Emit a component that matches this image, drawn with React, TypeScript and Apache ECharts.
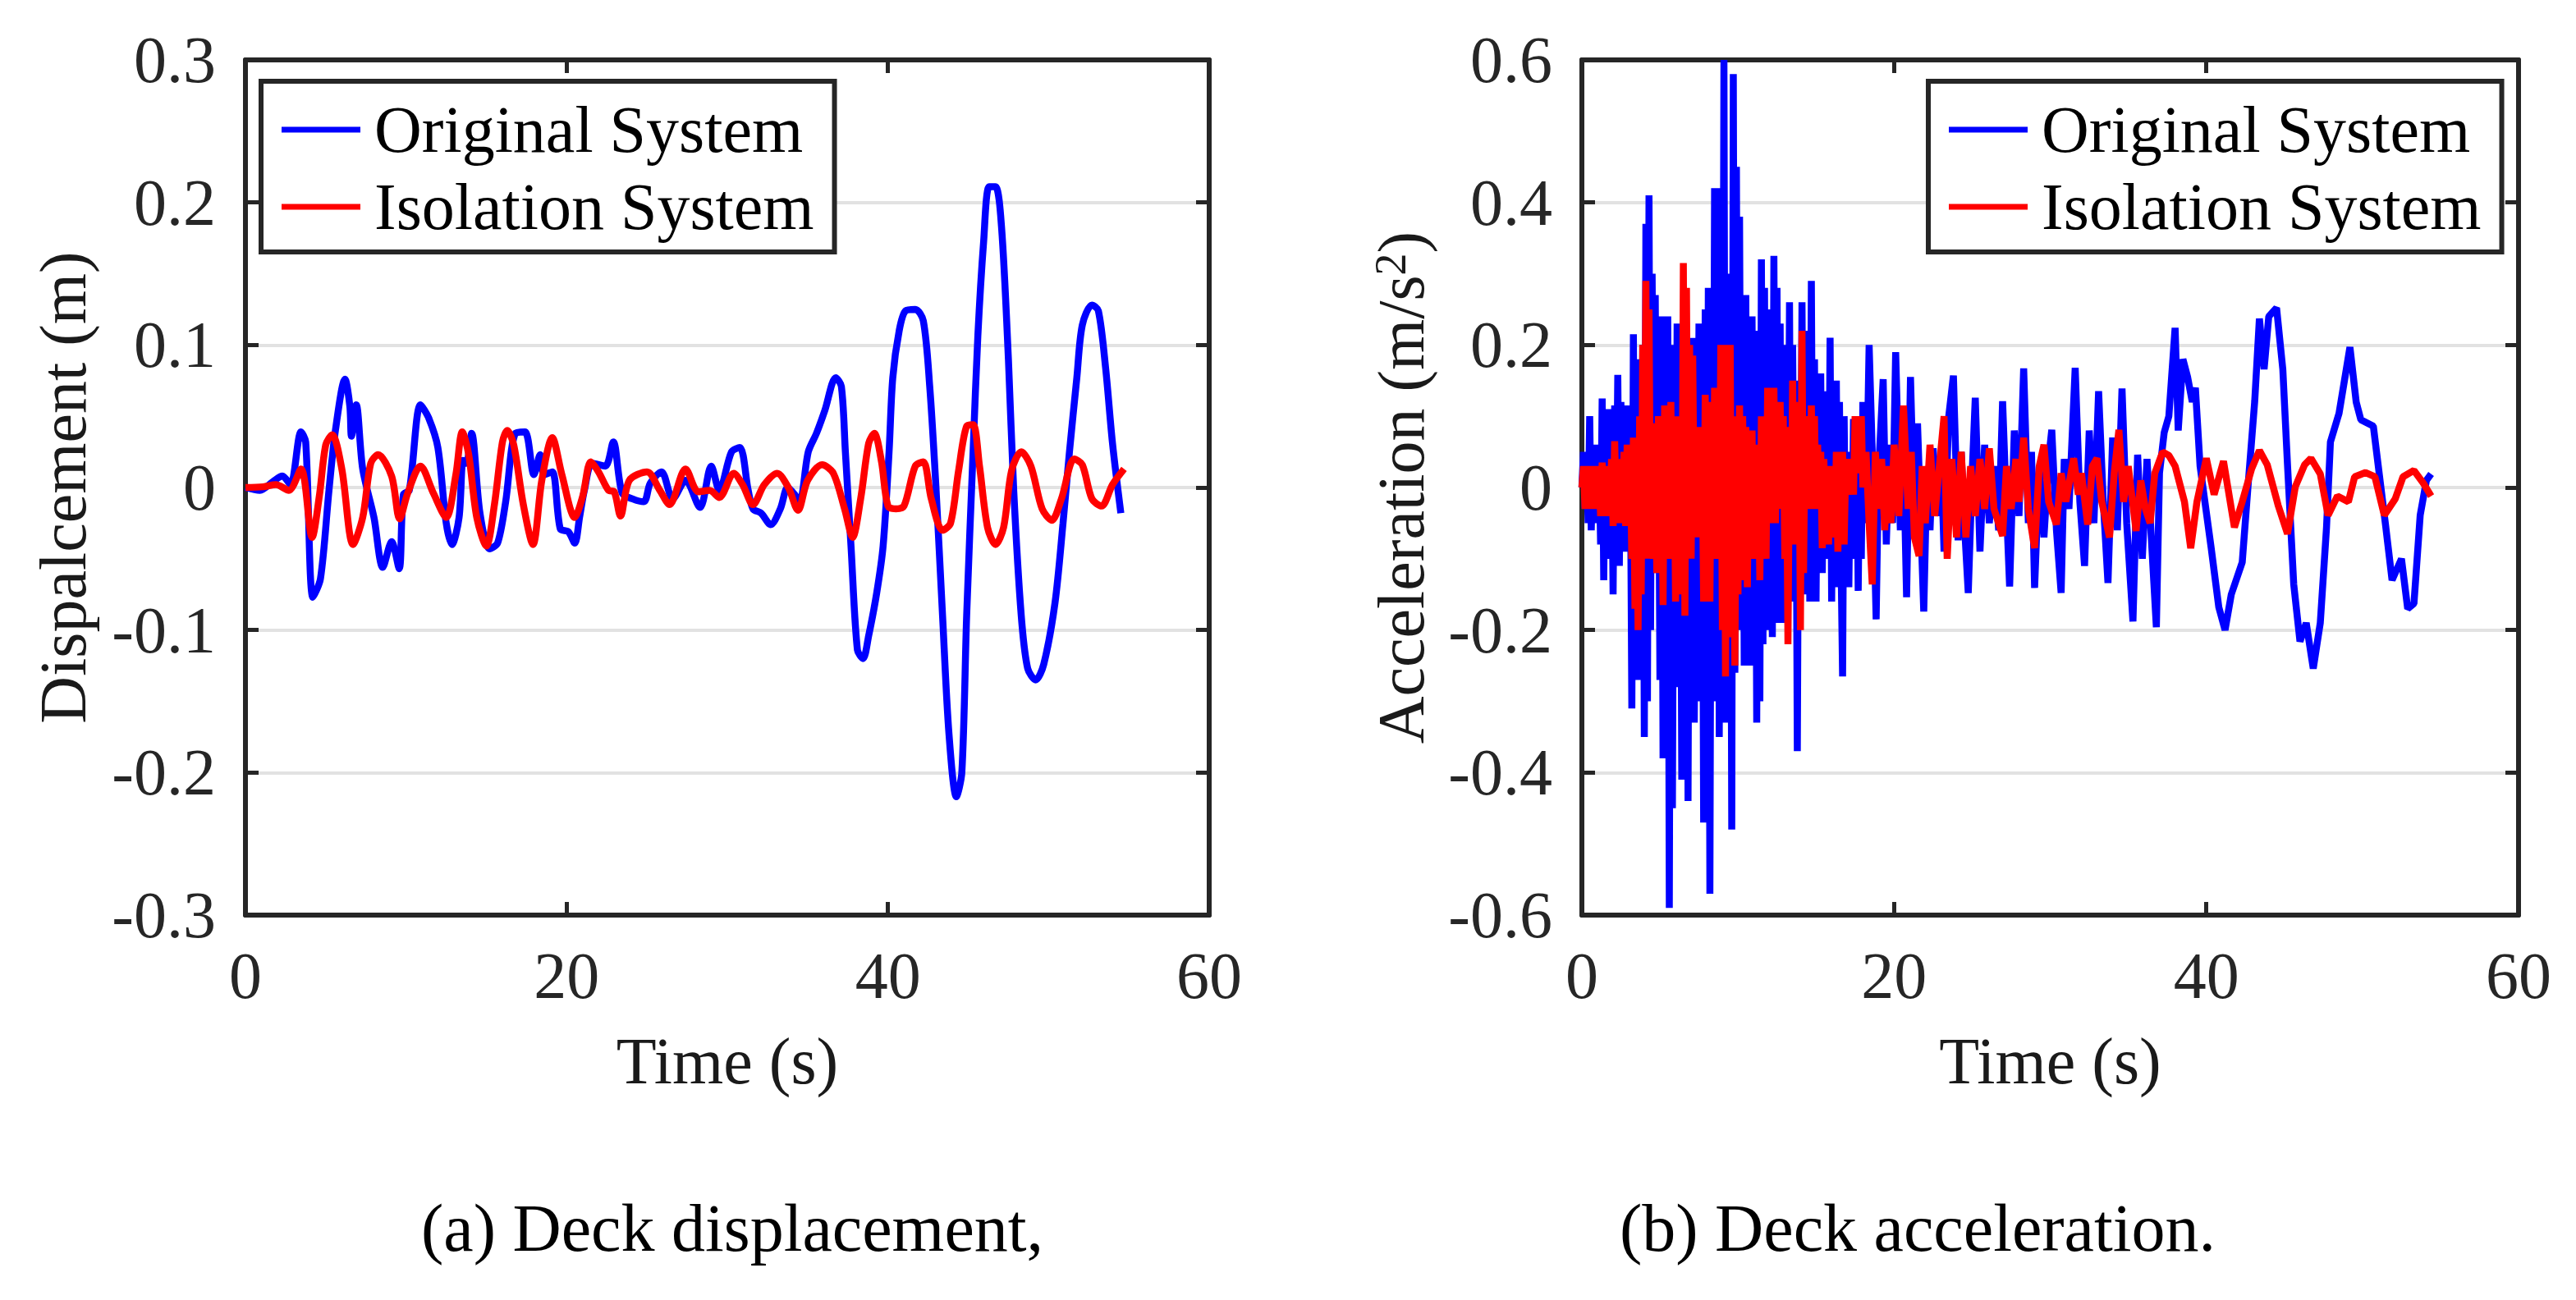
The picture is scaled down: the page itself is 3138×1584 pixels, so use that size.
import React, { useEffect, useRef } from "react";
import * as echarts from "echarts";

const FONT = '"Liberation Serif", "Times New Roman", serif';

const timeTicks = [0, 20, 40, 60];
const dispTicks = [-0.3, -0.2, -0.1, 0, 0.1, 0.2, 0.3];
const accTicks = [-0.6, -0.4, -0.2, 0, 0.2, 0.4, 0.6];
const seriesNames = ["Original System", "Isolation System"];
const captions = ["(a) Deck displacement,", "(b) Deck acceleration."];
const timeName = "Time (s)";
const dispName = "Dispalcement (m)";
const accName = "Acceleration (m/s{sup|2})";

// (a) Deck displacement [time s, m]
const dispOriginal = [
  [0, 0], [0.9, -0.002], [1.7, 0.004], [2.3, 0.008], [2.8, 0.002], [3.46, 0.039], [3.75, 0.032],
  [4.2, -0.077], [4.67, -0.064], [5.2, -0.002], [5.6, 0.04], [6.2, 0.076], [6.5, 0.057], [6.6, 0.036],
  [6.9, 0.058], [7.3, 0.013], [8.0, -0.021], [8.55, -0.056], [9.1, -0.038], [9.57, -0.057], [9.83, -0.005],
  [10.2, -0.002], [10.9, 0.058], [11.4, 0.049], [11.98, 0.028], [12.5, -0.025], [12.86, -0.04], [13.3, -0.021],
  [13.55, 0.019], [13.75, 0.017], [14.08, 0.038], [14.6, -0.018], [15.2, -0.043], [15.7, -0.039], [16.2, -0.01],
  [16.8, 0.038], [17.4, 0.039], [17.96, 0.009], [18.35, 0.023], [18.6, 0.009], [19.1, 0.011], [19.6, -0.029],
  [20.1, -0.031], [20.5, -0.039], [20.8, -0.021], [21.1, -0.002], [21.6, 0.017], [22.4, 0.015], [22.9, 0.032],
  [23.45, -0.004], [24.1, -0.008], [24.8, -0.01], [25.2, 0.003], [25.9, 0.011], [26.6, -0.008], [27.4, 0.005],
  [28.3, -0.014], [29.0, 0.015], [29.5, -0.002], [30.26, 0.025], [30.78, 0.028], [31.3, -0.002], [31.6, -0.015],
  [32.1, -0.018], [32.7, -0.026], [33.3, -0.015], [33.76, 0], [34.2, -0.005], [34.5, -0.01], [35.04, 0.025],
  [35.55, 0.038], [36.07, 0.054], [36.75, 0.077], [37.1, 0.071], [37.35, 0.025], [37.7, -0.041], [38.1, -0.114],
  [38.45, -0.12], [38.8, -0.104], [39.3, -0.074], [39.7, -0.041], [40.07, 0.025], [40.3, 0.077], [40.7, 0.11],
  [41.1, 0.124], [41.7, 0.125], [42.2, 0.117], [42.6, 0.071], [42.98, 0.002], [43.4, -0.09], [43.8, -0.173],
  [44.26, -0.217], [44.6, -0.2], [44.9, -0.09], [45.3, 0.025], [45.6, 0.107], [45.96, 0.173], [46.3, 0.211],
  [46.7, 0.211], [47.07, 0.183], [47.5, 0.09], [47.83, -0.002], [48.3, -0.09], [48.7, -0.127], [49.2, -0.135],
  [49.7, -0.124], [50.4, -0.081], [50.9, -0.025], [51.3, 0.025], [51.76, 0.077], [52.1, 0.114], [52.7, 0.128],
  [53.1, 0.124], [53.55, 0.084], [53.98, 0.031], [54.5, -0.018],
];

const dispIsolation = [
  [0, 0], [1.1, 0.0005], [1.9, 0.002], [2.7, -0.002], [3.46, 0.013], [4.15, -0.035], [4.6, -0.006], [5.0, 0.03],
  [5.4, 0.037], [6.0, 0.013], [6.7, -0.04], [7.3, -0.021], [7.8, 0.017], [8.26, 0.023], [9.1, 0.008], [9.6, -0.022],
  [10.1, -0.004], [10.9, 0.015], [11.7, -0.004], [12.5, -0.021], [13.1, 0.009], [13.5, 0.039], [13.9, 0.023],
  [14.4, -0.021], [15.0, -0.041], [15.5, -0.012], [16.0, 0.032], [16.3, 0.04], [16.7, 0.03], [17.3, -0.012],
  [17.9, -0.04], [18.45, 0.005], [19.1, 0.035], [19.7, 0.009], [20.5, -0.021], [21.0, -0.006], [21.5, 0.018],
  [21.98, 0.011], [22.6, -0.002], [22.96, -0.003], [23.35, -0.02], [23.9, 0.005], [25.0, 0.011], [25.8, -0.002],
  [26.4, -0.012], [27.4, 0.013], [28.2, -0.003], [28.9, -0.002], [29.5, -0.007], [30.4, 0.01], [30.95, 0.002],
  [31.6, -0.012], [32.3, 0.002], [33.1, 0.01], [33.8, 0], [34.4, -0.016], [35.0, 0.005], [35.9, 0.016], [36.6, 0.01],
  [37.3, -0.015], [37.8, -0.035], [38.3, -0.008], [38.8, 0.031], [39.15, 0.038], [39.6, 0.018], [40.0, -0.013],
  [40.5, -0.015], [41.0, -0.013], [41.7, 0.015], [42.2, 0.018], [42.7, -0.008], [43.4, -0.03], [43.9, -0.025],
  [44.4, 0.012], [44.9, 0.043], [45.3, 0.044], [45.7, 0.015], [46.2, -0.028], [46.7, -0.04], [47.2, -0.028],
  [47.7, 0.012], [48.3, 0.025], [48.9, 0.015], [49.6, -0.015], [50.2, -0.023], [50.8, -0.008], [51.6, 0.02],
  [52.1, 0.016], [52.7, -0.008], [53.3, -0.013], [53.98, 0.002], [54.7, 0.013],
];

// (b) Deck acceleration [time s, m/s^2]
const accOriginal = [
  [0.0, 0], [0.1, 0.05], [0.2, -0.03], [0.3, 0.04], [0.4, -0.05], [0.5, 0.1], [0.6, -0.06], [0.7, 0.03],
  [0.8, -0.04], [0.9, 0.06], [1.0, -0.05], [1.1, 0.04], [1.2, -0.08], [1.3, 0.125], [1.4, -0.13], [1.5, 0.08],
  [1.6, -0.1], [1.7, 0.11], [1.8, -0.09], [1.9, 0.07], [2.0, -0.15], [2.1, 0.115], [2.2, -0.06], [2.3, 0.158],
  [2.4, -0.11], [2.5, 0.12], [2.6, -0.07], [2.7, 0.09], [2.8, -0.09], [2.9, 0.115], [3.0, -0.05], [3.1, 0.06],
  [3.2, -0.31], [3.3, 0.215], [3.4, -0.2], [3.5, 0.18], [3.6, -0.27], [3.7, 0.12], [3.8, -0.15], [3.9, 0.2],
  [4.0, -0.35], [4.1, 0.37], [4.2, -0.3], [4.3, 0.41], [4.4, -0.2], [4.5, 0.3], [4.6, -0.05], [4.7, 0.27],
  [4.8, -0.12], [4.9, 0.15], [5.0, -0.27], [5.1, 0.24], [5.2, -0.38], [5.3, 0.18], [5.4, -0.3], [5.5, 0.24],
  [5.6, -0.59], [5.7, 0.2], [5.8, -0.45], [5.9, 0.15], [6.0, -0.28], [6.1, 0.23], [6.2, -0.2], [6.3, 0.12],
  [6.4, -0.41], [6.5, 0.2], [6.6, -0.3], [6.7, 0.15], [6.8, -0.44], [6.9, 0.18], [7.0, -0.25], [7.1, 0.21],
  [7.2, -0.33], [7.3, 0.1], [7.4, -0.2], [7.5, 0.23], [7.6, -0.3], [7.7, 0.15], [7.8, -0.47], [7.9, 0.25],
  [8.0, -0.35], [8.1, 0.28], [8.2, -0.57], [8.3, 0.2], [8.4, -0.25], [8.5, 0.42], [8.6, -0.3], [8.7, 0.35],
  [8.8, -0.35], [8.9, 0.42], [9.0, -0.2], [9.1, 0.6], [9.2, -0.33], [9.3, 0.3], [9.4, -0.25], [9.5, 0.28],
  [9.6, -0.48], [9.7, 0.58], [9.8, -0.26], [9.9, 0.45], [10.0, -0.2], [10.1, 0.38], [10.2, -0.15], [10.3, 0.22],
  [10.4, -0.25], [10.5, 0.27], [10.6, -0.2], [10.7, 0.2], [10.8, -0.25], [10.9, 0.24], [11.0, -0.18], [11.1, 0.2],
  [11.2, -0.33], [11.3, 0.22], [11.4, -0.3], [11.5, 0.32], [11.6, -0.22], [11.7, 0.28], [11.8, -0.2], [11.9, 0.2],
  [12.0, -0.15], [12.1, 0.25], [12.2, -0.21], [12.3, 0.325], [12.4, -0.15], [12.5, 0.28], [12.6, -0.19], [12.7, 0.23],
  [12.8, -0.15], [12.9, 0.2], [13.0, -0.19], [13.1, 0.18], [13.2, -0.12], [13.3, 0.26], [13.4, -0.16], [13.5, 0.2],
  [13.6, -0.1], [13.7, 0.15], [13.8, -0.37], [13.9, 0.12], [14.0, -0.12], [14.1, 0.26], [14.2, -0.15], [14.3, 0.2],
  [14.4, -0.1], [14.5, 0.22], [14.6, -0.16], [14.7, 0.29], [14.8, -0.12], [14.9, 0.18], [15.0, -0.16], [15.1, 0.12],
  [15.2, -0.1], [15.3, 0.16], [15.4, -0.12], [15.5, 0.135], [15.6, -0.1], [15.7, 0.1], [15.8, -0.08], [15.9, 0.21],
  [16.0, -0.16], [16.1, 0.15], [16.2, -0.12], [16.3, 0.15], [16.4, -0.14], [16.5, 0.12], [16.6, -0.1], [16.7, -0.265],
  [16.8, 0.1], [16.9, -0.12], [17.0, 0.05], [17.1, -0.14], [17.2, 0.04], [17.3, -0.1], [17.4, 0.096], [17.5, -0.07],
  [17.6, 0.095], [17.7, -0.145], [17.8, 0.05], [17.9, -0.1], [18.0, 0.12], [18.2, -0.05], [18.4, 0.2], [18.6, 0.05],
  [18.85, -0.185], [19.0, 0.02], [19.3, 0.152], [19.5, -0.08], [19.7, 0.06], [19.9, -0.05], [20.1, 0.19], [20.4, -0.06],
  [20.6, 0.05], [20.8, -0.154], [21.05, 0.155], [21.3, -0.05], [21.5, 0.09], [21.9, -0.174], [22.1, 0.02], [22.3, -0.06],
  [22.5, 0.055], [22.8, -0.04], [23.0, 0.05], [23.2, -0.09], [23.5, 0.1], [23.8, 0.157], [24.1, -0.074], [24.3, 0.05],
  [24.5, -0.05], [24.75, -0.148], [25.0, 0.02], [25.2, 0.126], [25.5, -0.09], [25.8, 0.06], [26.1, -0.05], [26.4, 0.03],
  [26.7, -0.06], [26.95, 0.121], [27.2, -0.03], [27.4, -0.139], [27.7, 0.08], [28.0, -0.04], [28.3, 0.167], [28.6, -0.05],
  [28.8, 0.05], [29.0, -0.141], [29.3, 0.03], [29.6, -0.07], [29.9, 0.04], [30.1, 0.081], [30.4, -0.06], [30.7, -0.148],
  [30.9, 0.04], [31.2, -0.03], [31.6, 0.168], [31.9, -0.02], [32.2, -0.11], [32.5, 0.08], [32.8, -0.05], [33.1, 0.135],
  [33.4, -0.02], [33.7, -0.134], [34.0, 0.07], [34.3, -0.06], [34.6, 0.139], [34.9, -0.05], [35.3, -0.188], [35.6, 0.046],
  [35.9, -0.1], [36.2, 0.04], [36.5, -0.08], [36.8, -0.196], [37.0, 0.02], [37.3, 0.077], [37.6, 0.1], [38.0, 0.224],
  [38.2, 0.08], [38.5, 0.18], [38.8, 0.155], [39.1, 0.12], [39.3, 0.14], [39.6, 0.03], [40.3, -0.083], [40.8, -0.168],
  [41.2, -0.2], [41.6, -0.15], [42.3, -0.105], [42.7, 0.01], [43.1, 0.121], [43.4, 0.237], [43.7, 0.166], [44.0, 0.24],
  [44.5, 0.252], [44.9, 0.166], [45.2, 0.032], [45.6, -0.136], [46.0, -0.216], [46.4, -0.19], [46.85, -0.254],
  [47.3, -0.19], [47.7, -0.056], [47.95, 0.064], [48.5, 0.104], [49.2, 0.197], [49.6, 0.12], [49.9, 0.095],
  [50.7, 0.086], [51.5, -0.056], [51.9, -0.13], [52.5, -0.1], [52.9, -0.17], [53.3, -0.163], [53.7, -0.039],
  [54.1, 0.01], [54.4, 0.019],
];

const accIsolation = [
  [0.0, 0], [0.1, 0.03], [0.2, -0.03], [0.3, 0.02], [0.4, -0.02], [0.5, 0.03], [0.6, -0.03], [0.7, 0.02],
  [0.8, -0.01], [0.9, 0.03], [1.0, -0.03], [1.1, 0.02], [1.2, -0.04], [1.3, 0.035], [1.4, -0.02], [1.5, 0.03],
  [1.6, -0.04], [1.7, 0.02], [1.8, -0.03], [1.9, 0.04], [2.0, -0.054], [2.1, 0.065], [2.2, -0.03], [2.3, 0.04],
  [2.4, -0.05], [2.5, 0.03], [2.6, -0.04], [2.7, 0.05], [2.8, -0.054], [2.9, 0.06], [3.0, -0.03], [3.1, 0.04],
  [3.2, -0.1], [3.3, 0.07], [3.4, -0.17], [3.5, 0.05], [3.6, -0.2], [3.7, 0.1], [3.8, -0.15], [3.9, 0.2],
  [4.0, -0.05], [4.1, 0.29], [4.2, -0.1], [4.3, 0.25], [4.4, -0.08], [4.5, 0.09], [4.6, -0.1], [4.7, 0.06],
  [4.8, -0.12], [4.9, 0.1], [5.0, -0.08], [5.1, 0.08], [5.2, -0.165], [5.3, 0.115], [5.4, -0.1], [5.5, 0.08],
  [5.6, -0.08], [5.7, 0.12], [5.8, -0.1], [5.9, 0.09], [6.0, -0.16], [6.1, 0.1], [6.2, -0.12], [6.3, 0.08],
  [6.4, -0.15], [6.5, 0.315], [6.6, -0.18], [6.7, 0.28], [6.8, -0.1], [6.9, 0.2], [7.0, -0.1], [7.1, 0.185],
  [7.2, -0.06], [7.3, 0.08], [7.4, -0.07], [7.5, 0.085], [7.6, -0.05], [7.7, 0.06], [7.8, -0.16], [7.9, 0.13],
  [8.0, -0.1], [8.1, 0.1], [8.2, -0.16], [8.3, 0.12], [8.4, -0.08], [8.5, 0.14], [8.6, -0.1], [8.7, 0.1],
  [8.8, -0.08], [8.9, 0.2], [9.0, -0.2], [9.1, 0.15], [9.2, -0.265], [9.3, 0.2], [9.4, -0.15], [9.5, 0.2],
  [9.6, -0.21], [9.7, 0.1], [9.8, -0.25], [9.9, 0.08], [10.0, -0.15], [10.1, 0.115], [10.2, -0.13], [10.3, 0.1],
  [10.4, -0.1], [10.5, 0.085], [10.6, -0.14], [10.7, 0.06], [10.8, -0.1], [10.9, 0.08], [11.0, -0.1], [11.1, 0.06],
  [11.2, -0.08], [11.3, 0.05], [11.4, -0.13], [11.5, 0.1], [11.6, -0.08], [11.7, 0.08], [11.8, -0.1], [11.9, 0.14],
  [12.0, -0.05], [12.1, 0.12], [12.2, -0.03], [12.3, 0.14], [12.4, -0.05], [12.5, 0.1], [12.6, -0.03], [12.7, 0.12],
  [12.8, -0.02], [12.9, 0.1], [13.0, -0.1], [13.1, 0.085], [13.2, -0.22], [13.3, 0.06], [13.4, -0.08], [13.5, 0.15],
  [13.6, -0.05], [13.7, 0.1], [13.8, -0.08], [13.9, 0.12], [14.0, -0.2], [14.1, 0.22], [14.2, -0.12], [14.3, 0.1],
  [14.4, -0.03], [14.5, 0.08], [14.6, -0.03], [14.7, 0.115], [14.8, -0.02], [14.9, 0.1], [15.0, -0.03], [15.1, 0.06],
  [15.2, -0.02], [15.3, 0.05], [15.4, -0.085], [15.5, 0.04], [15.6, -0.06], [15.7, 0.03], [15.8, -0.08], [15.9, 0.03],
  [16.0, -0.06], [16.1, 0.02], [16.2, -0.07], [16.3, 0.05], [16.4, -0.09], [16.5, 0.04], [16.6, -0.06], [16.7, 0.05],
  [16.8, -0.08], [16.9, 0.03], [17.0, -0.01], [17.1, 0.04], [17.2, 0.0], [17.3, 0.03], [17.4, -0.01], [17.5, 0.1],
  [17.6, 0.02], [17.7, 0.08], [17.8, 0.023], [17.9, 0.1], [18.0, 0.0], [18.2, 0.05], [18.4, -0.05], [18.6, -0.136],
  [18.8, 0.05], [19.0, -0.03], [19.2, 0.04], [19.4, -0.06], [19.6, 0.03], [19.8, -0.05], [20.0, 0.06], [20.3, -0.04],
  [20.6, 0.115], [20.9, -0.03], [21.1, 0.05], [21.3, -0.07], [21.6, -0.096], [21.8, 0.03], [22.0, -0.05], [22.3, 0.06],
  [22.6, -0.04], [22.9, 0.03], [23.2, 0.1], [23.4, -0.1], [23.7, 0.04], [24.0, -0.07], [24.3, 0.05], [24.6, -0.07],
  [24.9, 0.03], [25.2, -0.04], [25.5, 0.04], [25.8, -0.03], [26.1, 0.055], [26.4, -0.03], [26.95, -0.068], [27.2, 0.03],
  [27.5, -0.03], [27.8, 0.04], [28.0, -0.02], [28.3, 0.07], [28.6, -0.03], [29.0, -0.085], [29.3, 0.03], [29.6, 0.06],
  [29.9, -0.02], [30.4, -0.052], [30.7, 0.02], [31.0, -0.02], [31.5, 0.041], [31.8, -0.01], [32.0, 0.02], [32.4, -0.052],
  [32.7, 0.03], [33.0, 0.041], [33.3, -0.02], [33.8, -0.07], [34.1, 0.02], [34.4, 0.081], [34.7, -0.02], [35.0, 0.03],
  [35.5, -0.061], [35.8, 0.01], [36.1, -0.03], [36.4, -0.05], [36.7, 0.02], [37.2, 0.05], [37.6, 0.045], [38.0, 0.03],
  [38.6, -0.02], [39.0, -0.085], [39.4, -0.02], [40.0, 0.041], [40.5, -0.01], [41.1, 0.037], [41.8, -0.056],
  [42.3, -0.02], [42.9, 0.026], [43.4, 0.052], [43.9, 0.032], [44.6, -0.025], [45.2, -0.065], [45.7, 0.001],
  [46.3, 0.032], [46.7, 0.041], [47.3, 0.019], [47.8, -0.039], [48.4, -0.012], [49.1, -0.02], [49.5, 0.015],
  [50.2, 0.021], [50.8, 0.015], [51.4, -0.039], [52.1, -0.016], [52.6, 0.015], [53.3, 0.024], [53.9, 0.006],
  [54.4, -0.012],
];

const AXIS_COLOR = "#262626";
const GRID_COLOR = "#e2e2e2";
const BLUE = "#0000ff";
const RED = "#ff0000";

function axisPair(gridIndex: number, ticks: number[], withSplit: boolean, name: string, nameGap: number, isY: boolean) {
  const min = ticks[0];
  const max = ticks[ticks.length - 1];
  const interval = ticks[1] - ticks[0];
  const common = {
    type: "value",
    gridIndex,
    min,
    max,
    interval,
    axisLine: { show: true, onZero: false, lineStyle: { color: AXIS_COLOR, width: 6 } },
    axisTick: { show: true, inside: true, length: 16, lineStyle: { color: AXIS_COLOR, width: 5 } },
  };
  const main = {
    ...common,
    position: isY ? "left" : "bottom",
    name,
    nameLocation: "middle",
    nameGap,
    nameTextStyle: {
      fontFamily: FONT,
      fontSize: 80,
      lineHeight: 80,
      color: "#1a1a1a",
      rich: { sup: { fontFamily: FONT, fontSize: 54, lineHeight: 54, color: "#1a1a1a", verticalAlign: "top" } },
    },
    axisLabel: {
      show: true,
      margin: isY ? 36 : 34,
      fontFamily: FONT,
      fontSize: 80,
      color: "#262626",
      formatter: (v: number) => String(Math.round(v * 10) / 10),
    },
    splitLine: { show: withSplit, lineStyle: { color: GRID_COLOR, width: 4 } },
  };
  const opposite = {
    ...common,
    position: isY ? "right" : "top",
    axisLabel: { show: false },
    splitLine: { show: false },
  };
  return [main, opposite];
}

function makeLegend(left: number) {
  return {
    data: seriesNames,
    orient: "vertical",
    left,
    top: 99,
    padding: [19, 25, 15, 25],
    itemGap: 14,
    itemWidth: 96,
    itemHeight: 7,
    icon: "rect",
    backgroundColor: "#ffffff",
    borderColor: AXIS_COLOR,
    borderWidth: 6,
    textStyle: { fontFamily: FONT, fontSize: 80, lineHeight: 80, color: "#000000", padding: [0, 0, 0, 12] },
    selectedMode: false,
  };
}

function lineSeries(name: string, data: number[][], color: string, axisIndex: number, smooth: number | boolean) {
  return {
    type: "line",
    name,
    data,
    xAxisIndex: axisIndex,
    yAxisIndex: axisIndex,
    symbol: "none",
    showSymbol: false,
    smooth,
    lineStyle: { color, width: 8.5 },
    itemStyle: { color },
    emphasis: { disabled: true },
  };
}

export default function App() {
  const ref = useRef<HTMLDivElement>(null);
  useEffect(() => {
    if (!ref.current) return;
    const chart = echarts.init(ref.current, undefined, { renderer: "svg" });
    const [x0, x0t] = axisPair(0, timeTicks, false, timeName, 138, false);
    const [x1, x1t] = axisPair(1, timeTicks, false, timeName, 138, false);
    const [y0, y0r] = axisPair(0, dispTicks, true, dispName, 182, true);
    const [y1, y1r] = axisPair(1, accTicks, true, accName, 180, true);
    chart.setOption({
      animation: false,
      backgroundColor: "#ffffff",
      grid: [
        { left: 299, top: 73, width: 1174, height: 1042, containLabel: false },
        { left: 1927, top: 73, width: 1141, height: 1042, containLabel: false },
      ],
      xAxis: [x0, x0t, x1, x1t],
      yAxis: [y0, y0r, y1, y1r],
      legend: [makeLegend(318), makeLegend(2349)],
      series: [
        lineSeries(seriesNames[0], dispOriginal, BLUE, 0, 0.3),
        lineSeries(seriesNames[1], dispIsolation, RED, 0, 0.3),
        lineSeries(seriesNames[0], accOriginal, BLUE, 2, false),
        lineSeries(seriesNames[1], accIsolation, RED, 2, false),
      ],
      graphic: [
        {
          type: "text",
          x: 892,
          y: 1496,
          style: { text: captions[0], font: `82px ${FONT}`, fill: "#000000", textAlign: "center", textVerticalAlign: "middle" },
        },
        {
          type: "text",
          x: 2336,
          y: 1496,
          style: { text: captions[1], font: `82px ${FONT}`, fill: "#000000", textAlign: "center", textVerticalAlign: "middle" },
        },
      ],
    });
    return () => chart.dispose();
  }, []);
  return (
    <div
      ref={ref}
      style={{ position: "absolute", left: 0, top: 0, width: 3138, height: 1584, background: "#ffffff" }}
    />
  );
}
